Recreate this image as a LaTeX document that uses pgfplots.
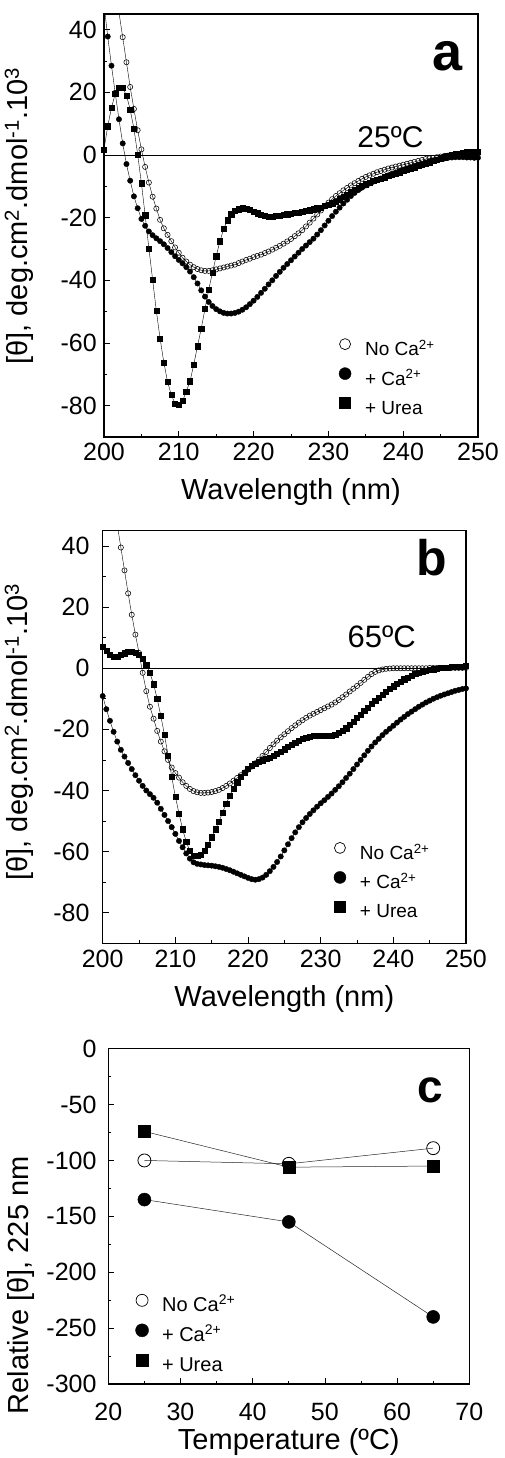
\documentclass[border=0pt]{standalone}
\usepackage{fontspec}
\setmainfont{Liberation Sans}
\usepackage{pgfplots}
\pgfplotsset{compat=1.18}
\usepackage{pgfplotstable}

% CD spectra, 25 C: wavelength, no Ca, + Ca, + urea
\pgfplotstableread{
wl noca ca urea
200 77.5 48.0 1.8
200.5 69.5 37.8 9.2
201 61.5 28.5 15.1
201.5 53.5 19.8 19.5
202 45.5 11.4 21.4
202.5 37.6 3.7 21.4
203 29.6 -2.9 19.0
203.5 21.7 -8.2 14.5
204 14.7 -13.2 8.4
204.5 7.9 -17.0 0.2
205 1.8 -20.4 -9.0
205.5 -3.8 -22.6 -19.2
206 -8.8 -24.4 -29.8
206.5 -13.3 -25.6 -39.8
207 -17.1 -26.6 -49.8
207.5 -20.7 -27.5 -58.6
208 -23.4 -28.5 -66.2
208.5 -25.5 -29.7 -72.4
209 -27.5 -31.0 -76.6
209.5 -29.5 -32.3 -79.3
210 -31.2 -33.5 -79.8
210.5 -32.8 -34.6 -78.5
211 -34.0 -35.8 -75.5
211.5 -35.0 -37.2 -72.2
212 -35.8 -39.0 -66.9
212.5 -36.4 -41.0 -61.0
213 -36.8 -43.2 -55.4
213.5 -37.0 -45.2 -49.1
214 -37.0 -46.9 -43.0
214.5 -36.8 -48.2 -37.5
215 -36.5 -49.2 -32.3
215.5 -36.2 -49.9 -27.5
216 -35.9 -50.4 -23.6
216.5 -35.6 -50.6 -20.8
217 -35.3 -50.6 -18.9
217.5 -35.0 -50.4 -17.9
218 -34.5 -50.0 -17.3
218.5 -34.0 -49.4 -17.0
219 -33.5 -48.6 -17.1
219.5 -33.1 -47.6 -17.5
220 -32.6 -46.5 -18.0
220.5 -32.2 -45.3 -18.6
221 -31.8 -44.0 -19.1
221.5 -31.3 -42.7 -19.4
222 -30.8 -41.3 -19.6
222.5 -30.2 -40.0 -19.6
223 -29.6 -38.6 -19.5
223.5 -29.0 -37.3 -19.3
224 -28.3 -36.0 -19.1
224.5 -27.6 -34.8 -18.9
225 -26.8 -33.6 -18.7
225.5 -25.9 -32.4 -18.5
226 -25.0 -31.2 -18.3
226.5 -24.0 -30.0 -18.1
227 -22.8 -28.9 -17.9
227.5 -21.6 -27.8 -17.6
228 -20.3 -26.7 -17.3
228.5 -19.0 -25.4 -17.0
229 -17.7 -24.0 -16.7
229.5 -16.4 -22.5 -16.3
230 -15.2 -21.0 -15.9
230.5 -14.1 -19.5 -15.4
231 -13.1 -18.1 -14.8
231.5 -12.2 -16.8 -14.1
232 -11.3 -15.5 -13.4
232.5 -10.5 -14.3 -12.6
233 -9.7 -13.1 -11.8
233.5 -9.0 -12.1 -11.1
234 -8.3 -11.2 -10.4
234.5 -7.6 -10.4 -9.8
235 -7.0 -9.7 -9.3
235.5 -6.5 -9.1 -8.8
236 -6.0 -8.5 -8.3
236.5 -5.5 -8.0 -7.9
237 -5.1 -7.5 -7.5
237.5 -4.7 -7.0 -7.1
238 -4.3 -6.5 -6.7
238.5 -4.0 -6.0 -6.3
239 -3.7 -5.6 -5.9
239.5 -3.4 -5.1 -5.5
240 -3.1 -4.7 -5.1
240.5 -2.8 -4.3 -4.7
241 -2.5 -3.9 -4.3
241.5 -2.2 -3.5 -3.9
242 -1.9 -3.1 -3.5
242.5 -1.6 -2.8 -3.1
243 -1.3 -2.4 -2.7
243.5 -1.1 -2.1 -2.3
244 -0.9 -1.8 -1.9
244.5 -0.7 -1.5 -1.5
245 -0.5 -1.3 -1.1
245.5 -0.3 -1.1 -0.7
246 -0.2 -0.9 -0.3
246.5 0.0 -0.8 0.0
247 0.1 -0.7 0.3
247.5 0.2 -0.7 0.5
248 0.3 -0.7 0.7
248.5 0.3 -0.8 0.9
249 0.4 -0.8 1.0
249.5 0.4 -0.9 1.1
250 0.4 -0.9 1.1
}\tabA

% CD spectra, 65 C
\pgfplotstableread{
wl noca ca urea
200 77.0 -9.1 7.0
200.5 69.5 -13.4 5.8
201 62.0 -17.2 4.5
201.5 54.5 -20.8 3.8
202 47.0 -24.0 3.8
202.5 39.5 -26.7 4.3
203 32.0 -28.9 4.9
203.5 24.5 -31.0 5.3
204 17.5 -33.0 5.5
204.5 11.0 -35.0 5.2
205 5.0 -36.8 4.4
205.5 -1.5 -38.5 3.2
206 -7.5 -40.0 1.2
206.5 -12.6 -41.2 -1.5
207 -16.5 -42.4 -5.2
207.5 -20.5 -44.0 -10.0
208 -24.0 -46.0 -15.6
208.5 -27.2 -48.0 -21.8
209 -30.0 -50.0 -28.5
209.5 -32.5 -52.0 -35.5
210 -34.3 -54.2 -42.0
210.5 -35.8 -56.5 -47.5
211 -37.3 -58.6 -52.7
211.5 -38.5 -60.6 -56.8
212 -39.5 -62.3 -59.8
212.5 -40.2 -63.5 -61.3
213 -40.6 -64.0 -61.4
213.5 -40.8 -64.2 -60.9
214 -40.8 -64.4 -59.7
214.5 -40.7 -64.5 -57.8
215 -40.5 -64.6 -55.3
215.5 -40.2 -64.8 -52.7
216 -39.8 -65.0 -50.2
216.5 -39.2 -65.3 -47.2
217 -38.5 -65.7 -44.3
217.5 -37.7 -66.1 -41.6
218 -36.8 -66.6 -39.3
218.5 -35.9 -67.1 -37.3
219 -35.0 -67.6 -35.6
219.5 -34.1 -68.1 -34.1
220 -33.2 -68.6 -32.9
220.5 -32.2 -69.0 -31.9
221 -31.1 -69.2 -31.2
221.5 -29.9 -69.0 -30.6
222 -28.7 -68.5 -30.1
222.5 -27.4 -67.6 -29.7
223 -26.1 -66.4 -29.2
223.5 -24.9 -65.0 -28.6
224 -23.7 -63.4 -28.0
224.5 -22.6 -61.6 -27.3
225 -21.6 -59.6 -26.5
225.5 -20.6 -57.6 -25.7
226 -19.6 -55.6 -25.0
226.5 -18.7 -53.7 -24.3
227 -17.8 -52.0 -23.6
227.5 -17.0 -50.4 -23.1
228 -16.2 -49.0 -22.7
228.5 -15.5 -47.7 -22.4
229 -14.9 -46.5 -22.2
229.5 -14.3 -45.3 -22.1
230 -13.7 -44.2 -22.1
230.5 -13.1 -43.2 -22.1
231 -12.5 -42.1 -22.1
231.5 -11.9 -41.0 -22.0
232 -11.2 -39.8 -21.7
232.5 -10.4 -38.6 -21.2
233 -9.5 -37.3 -20.5
233.5 -8.6 -35.9 -19.6
234 -7.6 -34.5 -18.5
234.5 -6.7 -33.0 -17.4
235 -5.8 -31.5 -16.3
235.5 -4.8 -30.0 -15.1
236 -3.8 -28.5 -14.0
236.5 -2.8 -27.0 -12.8
237 -1.9 -25.6 -11.7
237.5 -1.2 -24.3 -10.6
238 -0.7 -23.1 -9.6
238.5 -0.4 -21.9 -8.6
239 -0.2 -20.8 -7.6
239.5 -0.1 -19.8 -6.7
240 0.0 -18.8 -5.9
240.5 0.0 -17.8 -5.1
241 0.0 -16.8 -4.3
241.5 0.0 -15.9 -3.6
242 0.0 -15.0 -3.0
242.5 0.0 -14.2 -2.4
243 0.0 -13.4 -1.9
243.5 0.0 -12.6 -1.5
244 0.0 -11.9 -1.1
244.5 0.0 -11.2 -0.8
245 0.1 -10.6 -0.5
245.5 0.1 -10.0 -0.3
246 0.1 -9.5 -0.1
246.5 0.1 -9.0 0.1
247 0.1 -8.6 0.2
247.5 0.1 -8.2 0.3
248 0.1 -7.8 0.4
248.5 0.1 -7.4 0.5
249 0.1 -7.1 0.6
249.5 0.1 -6.8 0.6
250 0.1 -6.6 0.7
}\tabB

% relative ellipticity at 225 nm vs temperature
\pgfplotstableread{
T noca ca urea
25 -100 -135 -74
45 -103 -155 -106
65 -89 -240 -105
}\tabC

\pgfplotsset{
  cdpanel/.style={
    scale only axis,
    anchor=north west,
    axis line style={line width=1.1pt},
    tick align=inside,
    xtick pos=bottom, ytick pos=left,
    major tick length=6pt, minor tick length=3pt,
    every tick/.style={black, line width=0.8pt},
    /pgf/number format/assume math mode=true,
    scaled ticks=false,
    tick label style={font=\fontsize{25}{25}\selectfont},
    xticklabel style={inner sep=0pt, anchor=north},
    yticklabel style={inner sep=0pt, anchor=east},
    every axis x label/.style={at={(axis description cs:0.5,0)}, anchor=north,
      inner sep=0pt, font=\fontsize{29}{29}\selectfont},
    every axis y label/.style={rotate=90, anchor=south, inner sep=0pt,
      font=\fontsize{29}{29}\selectfont},
    legend cell align=left,
    legend image code/.code={\draw[#1] plot coordinates {(0pt,6.5pt)};},
    legend style={draw=none, fill=none, inner sep=0pt, anchor=north west,
      font=\fontsize{19}{19}\selectfont, row sep=8pt, column sep=14pt,
      nodes={inner sep=0pt, text height=14pt, text depth=4pt}},
  },
  spec/.style={xmin=200, xmax=250, ymin=-90, ymax=45,
    xtick={200,210,...,250}, minor x tick num=1,
    ytick={-80,-60,...,40}, minor y tick num=1,
    xlabel={Wavelength (nm)},
    ylabel={[θ], deg.cm\textsuperscript{2}.dmol\textsuperscript{-1}.10\textsuperscript{3}}},
  dots/.style={black, line width=0.4pt, forget plot},
}

\begin{document}
\begin{tikzpicture}[x=1pt, y=1pt]
\path[use as bounding box] (0,0) rectangle (505,1458);

% panel a
\begin{axis}[cdpanel, spec, at={(104pt,1444pt)}, width=374pt, height=423pt,
  xticklabel style={yshift=-6pt}, yticklabel style={xshift=-7pt},
  xlabel style={yshift=-41pt},
  ylabel style={at={(axis description cs:-0.187,0.522)}},
  legend style={at={(rel axis cs:0.628,0.233)}}]
\addplot[black, line width=0.7pt, no marks, forget plot] coordinates {(200,0) (250,0)};
\addplot[dots, mark=o, mark size=2.6pt, mark options={line width=0.55pt}] table[x=wl, y=noca] {\tabA};
\addplot[dots, mark=*, mark size=2.7pt] table[x=wl, y=ca] {\tabA};
\addplot[dots, mark=square*, mark size=2.6pt] table[x=wl, y=urea] {\tabA};
\addlegendimage{only marks, mark=o, mark size=5.5pt, mark options={line width=0.7pt}}
\addlegendentry{No Ca\textsuperscript{2+}}
\addlegendimage{only marks, mark=*, mark size=6pt}
\addlegendentry{+ Ca\textsuperscript{2+}}
\addlegendimage{only marks, mark=square*, mark size=5.5pt}
\addlegendentry{+ Urea}
\node[font=\fontsize{30}{30}\selectfont] at (axis cs:238.3,5.8) {25ºC};
\node[font=\bfseries\fontsize{54}{54}\selectfont] at (axis cs:245.9,31.4) {a};
\end{axis}

% panel b
\begin{axis}[cdpanel, spec, at={(102.7pt,927.3pt)}, width=363.3pt, height=412.6pt,
  xticklabel style={yshift=-6.7pt}, yticklabel style={xshift=-13pt},
  xlabel style={yshift=-41.7pt},
  ylabel style={at={(axis description cs:-0.189,0.512)}},
  legend style={at={(rel axis cs:0.636,0.245)}}]
\addplot[black, line width=0.7pt, no marks, forget plot] coordinates {(200,0) (250,0)};
\addplot[dots, mark=o, mark size=2.6pt, mark options={line width=0.55pt}] table[x=wl, y=noca] {\tabB};
\addplot[dots, mark=*, mark size=2.7pt] table[x=wl, y=ca] {\tabB};
\addplot[dots, mark=square*, mark size=2.6pt] table[x=wl, y=urea] {\tabB};
\addlegendimage{only marks, mark=o, mark size=5.5pt, mark options={line width=0.7pt}}
\addlegendentry{No Ca\textsuperscript{2+}}
\addlegendimage{only marks, mark=*, mark size=6pt}
\addlegendentry{+ Ca\textsuperscript{2+}}
\addlegendimage{only marks, mark=square*, mark size=5.5pt}
\addlegendentry{+ Urea}
\node[font=\fontsize{31}{31}\selectfont] at (axis cs:238.4,10.3) {65ºC};
\node[font=\bfseries\fontsize{50}{50}\selectfont] at (axis cs:245.3,36.2) {b};
\end{axis}

% panel c
\begin{axis}[cdpanel, at={(108.3pt,409.3pt)}, width=361pt, height=335.3pt,
  xmin=20, xmax=70, ymin=-300, ymax=0,
  xtick={20,30,...,70}, minor x tick num=1,
  ytick={-300,-250,...,0}, minor y tick num=1,
  xticklabel style={yshift=-19pt}, yticklabel style={xshift=-11.6pt},
  xlabel={Temperature (ºC)}, xlabel style={yshift=-44pt},
  ylabel={Relative [θ], 225 nm},
  ylabel style={at={(axis description cs:-0.203,0.294)}},
  legend style={at={(rel axis cs:0.075,0.268)}, font=\fontsize{20}{20}\selectfont,
    column sep=13.5pt}]
\addplot[black!85, line width=0.5pt, mark=o, mark size=6.5pt,
  mark options={black, line width=0.8pt, fill=white}, forget plot] table[x=T, y=noca] {\tabC};
\addplot[black!85, line width=0.5pt, mark=*, mark size=6.5pt,
  mark options={black}, forget plot] table[x=T, y=ca] {\tabC};
\addplot[black!85, line width=0.5pt, mark=square*, mark size=6pt,
  mark options={black}, forget plot] table[x=T, y=urea] {\tabC};
\addlegendimage{only marks, mark=o, mark size=6pt, mark options={line width=0.7pt}}
\addlegendentry{No Ca\textsuperscript{2+}}
\addlegendimage{only marks, mark=*, mark size=6.5pt}
\addlegendentry{+ Ca\textsuperscript{2+}}
\addlegendimage{only marks, mark=square*, mark size=6pt}
\addlegendentry{+ Urea}
\node[font=\bfseries\fontsize{46}{46}\selectfont] at (axis cs:64.6,-37) {c};
\end{axis}
\end{tikzpicture}
\end{document}
